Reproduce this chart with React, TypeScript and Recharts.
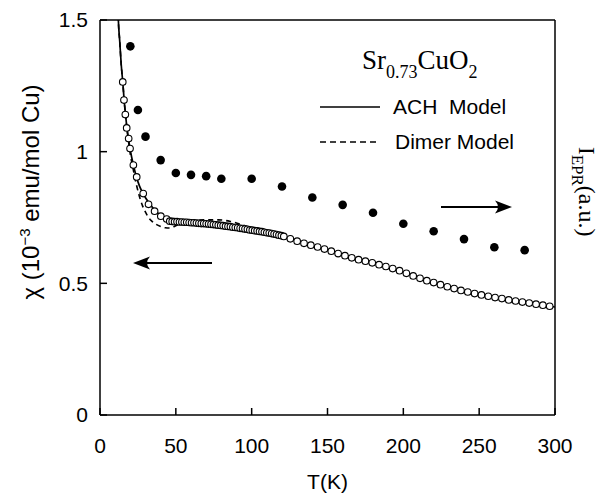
import { ComposedChart, Line, Scatter, XAxis, YAxis, Label } from 'recharts'

// measured chi(T), open circles (10^-3 emu/mol Cu)
const chiT = [
  15.0, 15.8, 16.7, 17.6, 18.9, 19.8, 22.0, 24.2, 28.5, 32.0, 36.0, 40.1, 44.0,
  46.0, 47.6, 49.2, 50.8, 52.4, 54.0, 55.6, 57.2, 58.8, 60.4, 62.0, 63.6, 65.2, 66.8, 68.4, 70.0,
  71.6, 73.2, 74.8, 76.4, 78.0, 79.6, 81.2, 82.8, 84.4, 86.0, 87.6, 89.2, 90.8, 92.4, 94.0, 95.6,
  97.2, 98.8, 100.4, 102.0, 103.6, 105.2, 106.8, 108.4, 110.0, 111.6, 113.2, 114.8, 116.4, 118.0,
  119.6, 121.2,
  125.5, 130, 134.5, 139, 143.5, 148, 152.5, 157, 161.5, 166, 170.5, 175, 179.5, 184, 188.5, 193,
  197.5, 202, 206.5, 211, 215.5, 220, 224.5, 229, 233.5, 238, 242.5, 247, 251.5, 256, 260.5, 265,
  269.5, 274, 278.5, 283, 287.5, 292, 296.5,
]
const chiV = [
  1.265, 1.196, 1.141, 1.09, 1.05, 1.012, 0.949, 0.904, 0.841, 0.8, 0.774, 0.755, 0.744,
  0.736, 0.735, 0.734, 0.734, 0.733, 0.733, 0.732, 0.732, 0.731, 0.73, 0.73, 0.729, 0.728, 0.727, 0.727, 0.726,
  0.725, 0.724, 0.723, 0.722, 0.721, 0.72, 0.719, 0.717, 0.716, 0.715, 0.713, 0.712, 0.711, 0.709, 0.708, 0.706,
  0.705, 0.703, 0.702, 0.7, 0.699, 0.697, 0.696, 0.694, 0.692, 0.691, 0.689, 0.687, 0.685, 0.683,
  0.681, 0.678,
  0.669, 0.66, 0.652, 0.645, 0.638, 0.63, 0.622, 0.613, 0.605, 0.597, 0.59, 0.584, 0.578, 0.571, 0.564, 0.556,
  0.548, 0.538, 0.528, 0.519, 0.51, 0.503, 0.495, 0.487, 0.48, 0.473, 0.467, 0.461, 0.456, 0.451, 0.446, 0.442,
  0.437, 0.433, 0.429, 0.425, 0.421, 0.417, 0.413,
]

// EPR intensity (a.u.), filled dots
const eprT = [20, 25, 30, 40, 50, 60, 70, 80, 100, 120, 140, 160, 180, 200, 220, 240, 260, 280]
const eprV = [1.4, 1.158, 1.057, 0.968, 0.919, 0.912, 0.907, 0.897, 0.897, 0.868, 0.826, 0.798, 0.768, 0.726, 0.698, 0.668, 0.637, 0.626]

// ACH model fit (solid)
const achT = [11.5, 12.1, 13, 14, 15, 16, 17, 18, 19, 20, 22, 24, 26, 28, 30, 33, 36, 40, 44, 48, 55, 65, 75, 85, 95, 105, 115, 125, 140, 160, 180, 200, 220, 240, 260, 280, 300]
const achV = [1.62, 1.5, 1.42, 1.33, 1.265, 1.19, 1.13, 1.08, 1.04, 1.005, 0.95, 0.905, 0.87, 0.845, 0.825, 0.8, 0.778, 0.758, 0.745, 0.738, 0.733, 0.728, 0.723, 0.716, 0.707, 0.697, 0.687, 0.67, 0.644, 0.607, 0.578, 0.542, 0.503, 0.471, 0.447, 0.428, 0.41]

// Dimer model fit (dashed)
const dimerT = [11.5, 12.1, 13, 14, 15, 16, 17, 18, 19, 20, 22, 24, 26, 28, 30, 32, 34, 37, 40, 43, 46, 49, 52, 56, 62, 70, 78, 86, 94, 100, 110, 120, 130, 150, 200, 250, 300]
const dimerV = [1.62, 1.5, 1.42, 1.33, 1.265, 1.19, 1.13, 1.075, 1.03, 0.99, 0.93, 0.875, 0.83, 0.795, 0.77, 0.75, 0.737, 0.724, 0.716, 0.711, 0.71, 0.716, 0.725, 0.733, 0.738, 0.741, 0.741, 0.735, 0.722, 0.71, 0.694, 0.678, 0.659, 0.627, 0.542, 0.458, 0.41]

const xTicks = [0, 50, 100, 150, 200, 250, 300]
const topTicks = [50, 100, 150, 200, 250]
const yTicks = [0, 0.5, 1, 1.5]
const rightTicks = [0.5, 1]

const zip = (ts: number[], vs: number[]) => ts.map((t, i) => ({ t, v: vs[i] }))

const SANS = 'Liberation Sans, Arial, Helvetica, sans-serif'
const SERIF = 'Liberation Serif, Times New Roman, serif'

const OpenCircle = (p: any) => (
  <circle cx={p.cx} cy={p.cy} r={3.3} fill="#fff" stroke="#000" strokeWidth={1.1} />
)
const Dot = (p: any) => <circle cx={p.cx} cy={p.cy} r={4.3} fill="#000" />

function Arrow({ x1, x2, y }: { x1: number; x2: number; y: number }) {
  // tip at x2
  const d = x2 > x1 ? 1 : -1
  return (
    <g>
      <line x1={x1} y1={y} x2={x2 - d * 6} y2={y} stroke="#000" strokeWidth={1.8} />
      <path
        d={`M${x2},${y} L${x2 - d * 17},${y - 6.5} Q${x2 - d * 11},${y} ${x2 - d * 17},${y + 6.5} Z`}
        fill="#000"
      />
    </g>
  )
}

export default function App() {
  const chi = zip(chiT, chiV)
  const epr = zip(eprT, eprV)
  const ach = zip(achT, achV)
  const dimer = zip(dimerT, dimerV)
  const tickStyle = { fill: '#000', fontSize: 21, fontFamily: SANS }

  return (
    <div style={{ position: 'absolute', left: 0, top: 0, width: 603, height: 495, background: '#fff' }}>
      <ComposedChart width={603} height={495} margin={{ top: 19, right: 0, bottom: 0, left: 0 }}>
        <XAxis
          xAxisId="b"
          type="number"
          dataKey="t"
          domain={[0, 300]}
          ticks={xTicks}
          allowDataOverflow
          height={80}
          tickSize={-7}
          tickMargin={30}
          stroke="#000"
          strokeWidth={1.5}
          tick={tickStyle}
        >
          <Label value="T(K)" position="insideBottom" offset={6} fill="#000" fontSize={21} fontFamily={SANS} />
        </XAxis>
        <XAxis
          xAxisId="t"
          orientation="top"
          type="number"
          dataKey="t"
          domain={[0, 300]}
          ticks={topTicks}
          allowDataOverflow
          height={1}
          tickSize={-7}
          tick={false}
          stroke="#000"
          strokeWidth={1.5}
        />
        <YAxis
          yAxisId="l"
          type="number"
          dataKey="v"
          domain={[0, 1.5]}
          ticks={yTicks}
          allowDataOverflow
          width={100}
          tickSize={-7}
          tickMargin={19}
          stroke="#000"
          strokeWidth={1.5}
          tick={tickStyle}
        />
        <YAxis
          yAxisId="r"
          orientation="right"
          type="number"
          dataKey="v"
          domain={[0, 1.5]}
          ticks={rightTicks}
          allowDataOverflow
          width={48}
          tickSize={-7}
          tick={false}
          stroke="#000"
          strokeWidth={1.5}
        />
        <Line xAxisId="b" yAxisId="l" data={ach} dataKey="v" type="monotone" stroke="#000" strokeWidth={1.7} dot={false} isAnimationActive={false} />
        <Line xAxisId="b" yAxisId="l" data={dimer} dataKey="v" type="monotone" stroke="#000" strokeWidth={1.6} strokeDasharray="5 4" dot={false} isAnimationActive={false} />
        <Scatter xAxisId="b" yAxisId="l" data={chi} dataKey="v" shape={OpenCircle} isAnimationActive={false} />
        <Scatter xAxisId="t" yAxisId="r" data={epr} dataKey="v" shape={Dot} isAnimationActive={false} />
      </ComposedChart>

      <svg width={603} height={495} style={{ position: 'absolute', left: 0, top: 0, pointerEvents: 'none' }}>
        {/* y axis title */}
        <text transform="translate(39,192) rotate(-90)" textAnchor="middle" fontSize={24} fontFamily={SANS} fill="#000">
          χ (10<tspan dy={-9} fontSize={15}>−3</tspan><tspan dy={9}> emu/mol Cu)</tspan>
        </text>
        {/* right axis title */}
        <text transform="translate(579,147) rotate(90)" fontFamily={SERIF} fill="#000" fontSize={23}>
          I<tspan dy={7} fontSize={17}>EPR</tspan><tspan dy={-7} fontSize={24}>(a.u.)</tspan>
        </text>
        {/* legend */}
        <text x={362} y={69} fontFamily={SERIF} fontSize={27} fill="#000">
          Sr<tspan dy={9} fontSize={18}>0.73</tspan><tspan dy={-9}>CuO</tspan><tspan dy={9} fontSize={18}>2</tspan>
        </text>
        <line x1={320} y1={107} x2={380} y2={107} stroke="#000" strokeWidth={1.7} />
        <text x={393} y={114} fontFamily={SANS} fontSize={21} fill="#000" xmlSpace="preserve">ACH  Model</text>
        <line x1={320} y1={142} x2={380} y2={142} stroke="#000" strokeWidth={1.6} strokeDasharray="6 4" />
        <text x={395} y={149} fontFamily={SANS} fontSize={21} fill="#000">Dimer Model</text>
        {/* arrows */}
        <Arrow x1={212} x2={133} y={263} />
        <Arrow x1={441} x2={512} y={207} />
      </svg>
    </div>
  )
}
